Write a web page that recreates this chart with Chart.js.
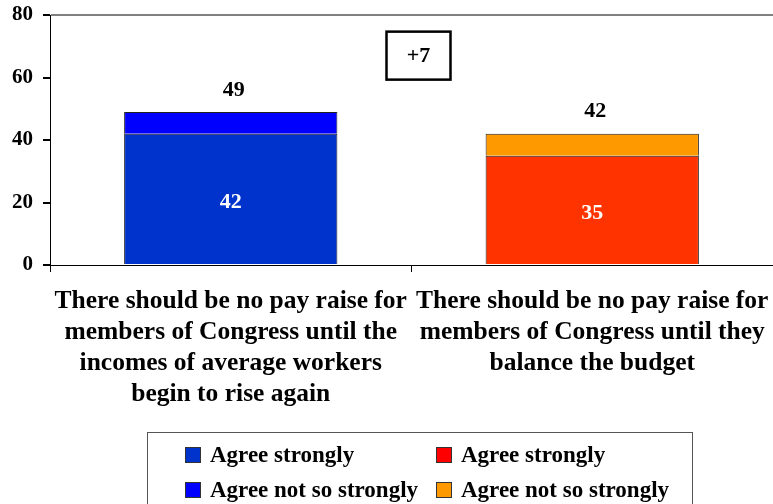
<!DOCTYPE html>
<html>
<head>
<meta charset="utf-8">
<script src="https://cdn.jsdelivr.net/npm/chart.js@4.4.0/dist/chart.umd.min.js"></script>
<style>
  html, body { margin: 0; padding: 0; background: #fff; overflow: hidden; }
  #wrap { width: 773px; height: 504px; position: relative; }
</style>
</head>
<body>
<div id="wrap"><canvas id="chart"></canvas></div>
<script>
// --- Data ---
const categories = [
    ["There should be no pay raise for", "members of Congress until the", "incomes of average workers", "begin to rise again"],
    ["There should be no pay raise for", "members of Congress until they", "balance the budget"]
];
const agreeStrongly = [42, 35];
const agreeNotSoStrongly = [7, 7];
const seriesLabels = ["Agree strongly", "Agree not so strongly"];
const yTicks = [0, 20, 40, 60, 80];

const serif = "'Liberation Serif', 'Times New Roman', serif";

// each category gets its own pair of colours
const palette = [
    { strong: '#0033CC', notSo: '#0000FF', legendStrong: '#0033CC', legendNotSo: '#0000FF' },
    { strong: '#FF3300', notSo: '#FF9900', legendStrong: '#FF0000', legendNotSo: '#FF9900' }
];

const onlyAt = (arr, k) => arr.map((v, i) => (i === k ? v : null));

const datasets = [];
categories.forEach((c, k) => {
    datasets.push({
        label: seriesLabels[0], data: onlyAt(agreeStrongly, k),
        backgroundColor: palette[k].strong, legendColor: palette[k].legendStrong,
        borderColor: '#222', borderWidth: 1, kind: 'strong'
    });
    datasets.push({
        label: seriesLabels[1], data: onlyAt(agreeNotSoStrongly, k),
        backgroundColor: palette[k].notSo, legendColor: palette[k].legendNotSo,
        borderColor: '#222', borderWidth: 1, kind: 'notSo'
    });
});

// value labels + difference box
const labelPlugin = {
    id: 'labels',
    afterDatasetsDraw(chart) {
        const ctx = chart.ctx;
        ctx.save();
        ctx.font = `bold 22px ${serif}`;
        ctx.textAlign = 'center';
        ctx.textBaseline = 'middle';
        const totals = [];
        categories.forEach((c, i) => {
            let top = null, strongEl = null, total = 0;
            chart.data.datasets.forEach((ds, j) => {
                const v = ds.data[i];
                if (v == null) return;
                total += v;
                const el = chart.getDatasetMeta(j).data[i];
                if (ds.kind === 'strong') strongEl = el;
                if (top === null || el.y < top.y) top = el;
            });
            totals.push(total);
            if (strongEl) {
                ctx.fillStyle = '#fff';
                ctx.fillText(String(agreeStrongly[i]), strongEl.x, (strongEl.y + strongEl.base) / 2 + 3);
            }
            ctx.fillStyle = '#000';
            ctx.fillText(String(total), top.x + 3, top.y - 22);
        });

        // "+7" box between the bars
        const xs = chart.scales.x, ys = chart.scales.y;
        const cx = xs.getPixelForValue(0.5) + 7;
        const cy = ys.getPixelForValue(67);
        const w = 64, h = 48;
        ctx.lineWidth = 2.5;
        ctx.strokeStyle = '#000';
        ctx.fillStyle = '#fff';
        ctx.fillRect(cx - w / 2, cy - h / 2, w, h);
        ctx.strokeRect(cx - w / 2, cy - h / 2, w, h);
        ctx.fillStyle = '#000';
        const diff = totals[0] - totals[1];
        ctx.fillText((diff >= 0 ? '+' : '') + diff, cx, cy + 1);
        ctx.restore();
    }
};

// boxed two-column legend
const legendPlugin = {
    id: 'boxLegend',
    afterDraw(chart) {
        const ctx = chart.ctx;
        ctx.save();
        ctx.strokeStyle = '#555';
        ctx.lineWidth = 1;
        ctx.strokeRect(147.5, 432.5, 545, 90);
        ctx.font = `bold 23px ${serif}`;
        ctx.textAlign = 'left';
        ctx.textBaseline = 'middle';
        const colX = [185, 436];
        const rowY = [455, 490];
        chart.data.datasets.forEach((ds, j) => {
            const col = Math.floor(j / 2), row = j % 2;
            const x = colX[col], y = rowY[row];
            ctx.fillStyle = ds.legendColor;
            ctx.fillRect(x, y - 8, 16, 16);
            ctx.strokeStyle = '#333';
            ctx.strokeRect(x + 0.5, y - 7.5, 15, 15);
            ctx.fillStyle = '#000';
            ctx.fillText(ds.label, x + 25, y + 1);
        });
        ctx.restore();
    }
};

new Chart(document.getElementById('chart'), {
    type: 'bar',
    data: { labels: categories, datasets },
    plugins: [labelPlugin, legendPlugin],
    options: {
        responsive: true,
        maintainAspectRatio: false,
        animation: false,
        layout: { padding: { top: 15, right: 0, bottom: 0, left: 0 } },
        plugins: { legend: { display: false }, tooltip: { enabled: false } },
        scales: {
            x: {
                stacked: true,
                grid: { drawOnChartArea: false, drawTicks: true, tickLength: 7, color: '#000', offset: true },
                border: { color: '#000', width: 1 },
                ticks: {
                    color: '#000', maxRotation: 0, autoSkip: false, padding: 14,
                    font: { family: serif, size: 25.5, weight: 'bold', lineHeight: 1.22 }
                },
                afterFit: (s) => { s.height = 239; s.paddingLeft = 0; s.paddingRight = 0; }
            },
            y: {
                stacked: true,
                min: yTicks[0], max: yTicks[yTicks.length - 1],
                ticks: {
                    stepSize: yTicks[1] - yTicks[0], color: '#000', padding: 10,
                    font: { family: serif, size: 21, weight: 'bold' }
                },
                grid: {
                    drawOnChartArea: true, tickLength: 7, tickColor: '#000', lineWidth: 2,
                    color: (c) => (c.tick && c.tick.value === yTicks[yTicks.length - 1] ? '#808080' : 'rgba(0,0,0,0)')
                },
                border: { color: '#000', width: 1 },
                afterFit: (s) => { s.width = 50; s.paddingTop = 0; s.paddingBottom = 0; }
            }
        },
        datasets: { bar: { barPercentage: 0.59, categoryPercentage: 1 } }
    }
});
</script>
</body>
</html>
